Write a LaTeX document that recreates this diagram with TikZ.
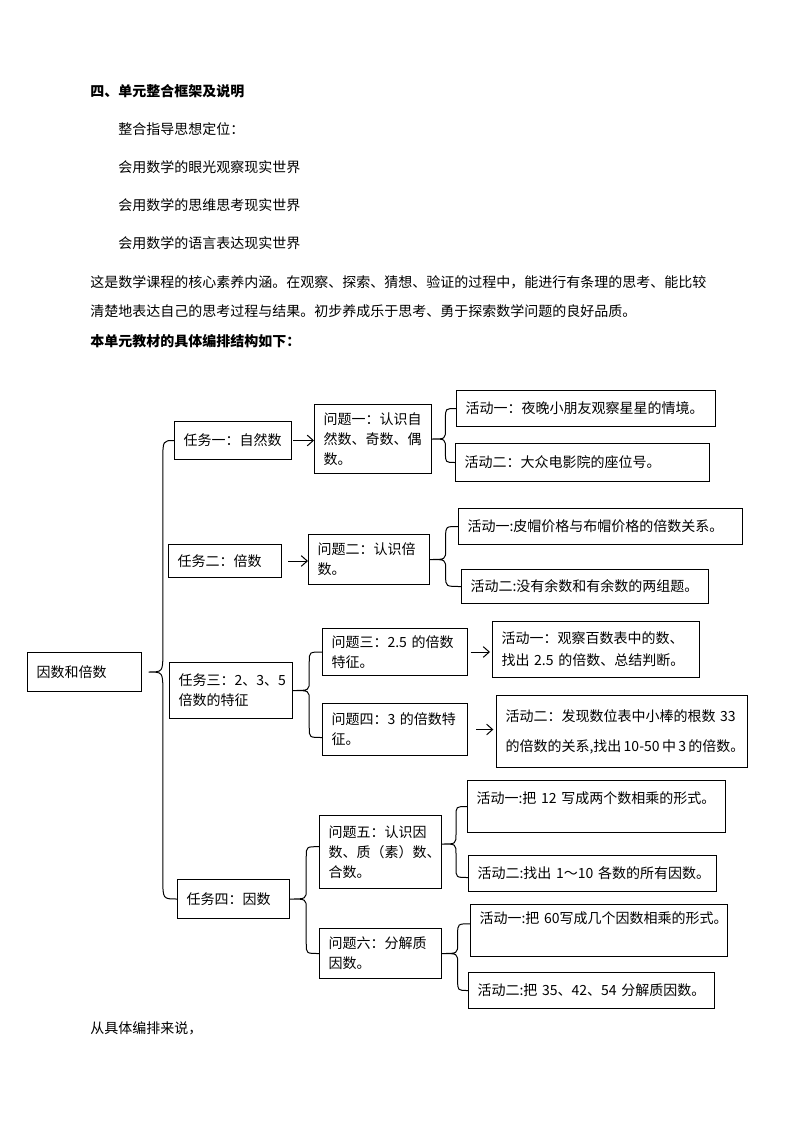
\documentclass[tikz,border=0pt]{standalone}
\usepackage{fontspec}
\setmainfont{Noto Sans CJK SC}
\usetikzlibrary{calc,arrows.meta}

\tikzset{
	box/.code 2 args={%
		\pgfmathsetmacro\bw{#1*0.75}\pgfmathsetmacro\bh{#2*0.75}\pgfmathsetmacro\tw{#1*0.75-13.5}%
		\tikzset{draw, line width=0.75pt, anchor=north west, align=left,
			minimum width=\bw pt, minimum height=\bh pt, text width=\tw pt,
			inner xsep=6.75pt, inner ysep=1pt}},
	link/.style={line width=0.75pt},
	arr/.style={line width=0.75pt, -{Straight Barb[length=4.5pt,width=8pt]}},
	textline/.style={anchor=base west, inner sep=0pt},
}

% brace from a parent point to a top and a bottom child
\newcommand\bracelink[4]{%
	\draw[link] let \p1=(#1), \p2=(#2), \p3=(#3),
			\n1={\x1+0.56*(\x2-\x1)}, \n2={#4*0.75pt} in
		(\p2) .. controls (\n1,\y2) .. (\n1,\y2-\n2) -- (\n1,\y1+\n2)
		.. controls (\n1,\y1) .. (\p1) .. controls (\n1,\y1) .. (\n1,\y1-\n2)
		-- (\n1,\y3+\n2) .. controls (\n1,\y3) .. (\p3);}

\begin{document}
\begin{tikzpicture}[x=0.75pt, y=-0.75pt, font=\fontsize{10.5pt}{15pt}\selectfont]
	\useasboundingbox (0,0) rectangle (794,1123);

	% text of the page
	\node[textline, font=\fontsize{10.5pt}{15pt}\selectfont\bfseries] (head) at (90,97) {四、单元整合框架及说明};
	\node[textline] (guide) at (118,135) {整合指导思想定位：};
	\node[textline] (view1) at (118,173) {会用数学的眼光观察现实世界};
	\node[textline] (view2) at (118,210) {会用数学的思维思考现实世界};
	\node[textline] (view3) at (118,248) {会用数学的语言表达现实世界};
	\node[textline] (para1) at (90,287) {这是数学课程的核心素养内涵。在观察、探索、猜想、验证的过程中，能进行有条理的思考、能比较};
	\node[textline] (para2) at (90,316) {清楚地表达自己的思考过程与结果。初步养成乐于思考、勇于探索数学问题的良好品质。};
	\node[textline, font=\fontsize{10.5pt}{15pt}\selectfont\bfseries] (plan) at (90,346) {本单元教材的具体编排结构如下：};
	\node[textline] (tail) at (90,1033) {从具体编排来说，};

	% the unit
	\node[box={114}{39}] (root) at (27,652) {因数和倍数};

	% task one
	\node[box={117}{38}] (t1) at (174,421) {任务一：自然数};
	\node[box={117}{69}] (q1) at (314,404) {问题一：认识自\\然数、奇数、偶\\数。};
	\node[box={259}{36}] (a11) at (456,390) {活动一：夜晚小朋友观察星星的情境。};
	\node[box={254}{38}] (a12) at (455,443) {活动二：大众电影院的座位号。};

	% task two
	\node[box={113}{33}] (t2) at (168,544) {任务二：倍数};
	\node[box={121}{50}] (q2) at (308,534) {问题二：认识倍\\数。};
	\node[box={284}{36}] (a21) at (458,508) {活动一:皮帽价格与布帽价格的倍数关系。};
	\node[box={247}{34}] (a22) at (461,569) {活动二:没有余数和有余数的两组题。};

	% task three
	\node[box={123}{56}] (t3) at (169,662) {任务三：2、3、5\\倍数的特征};
	\node[box={145}{47}] (q3) at (322,628) {问题三：2.5~的倍数\\特征。};
	\node[box={207}{56}, font=\fontsize{10.5pt}{16.5pt}\selectfont] (a31) at (492,621) {活动一：观察百数表中的数、\\找出~2.5~的倍数、总结判断。};
	\node[box={145}{52}] (q4) at (322,703) {问题四：3~的倍数特\\征。};
	\node[box={251}{72}, inner xsep=5.5pt, font=\fontsize{10.5pt}{22.5pt}\selectfont] (a32) at (496,695) {活动二：发现数位表中小棒的根数~33\\的倍数的关系,找出\,\mbox{10-50}\,中\,3\,的倍数。};

	% task four
	\node[box={112}{39}] (t4) at (177,879) {任务四：因数};
	\node[box={122}{73}] (q5) at (319,815) {问题五：认识因\\数、质（素）数、\\合数。};
	\node[box={122}{50}] (q6) at (319,928) {问题六：分解质\\因数。};
	\node[box={258}{52}, inner ysep=0pt, text height=17.25pt, text depth=21.75pt] (a51) at (467,780) {活动一:把~12~写成两个数相乘的形式。};
	\node[box={248}{36}] (a52) at (468,855) {活动二:找出~1～10~各数的所有因数。};
	\node[box={257}{52}, inner ysep=0pt, text height=14.25pt, text depth=24.75pt] (a61) at (470,904) {活动一:把~60写成几个因数相乘的形式。};
	\node[box={246}{36}] (a62) at (468,972) {活动二:把~35、42、54~分解质因数。};

	% braces
	\bracelink{[xshift=5pt]root.east}{t1.west}{t4.west}{20}
	\bracelink{q1.east}{a11.west}{a12.west}{10}
	\bracelink{q2.east}{a21.west}{a22.west}{10}
	\bracelink{t3.east}{q3.west}{[yshift=-6pt]q4.west}{10}
	\bracelink{t4.east}{[yshift=4pt]q5.west}{q6.west}{10}
	\bracelink{[yshift=6pt]q5.east}{a51.west}{[yshift=-3pt]a52.west}{10}
	\bracelink{q6.east}{[yshift=5pt]a61.west}{a62.west}{10}

	% arrows
	\draw[arr, shorten <=1pt] (t1.east) -- (t1.east -| q1.west);
	\draw[arr, shorten <=4.5pt] (t2.east) -- (t2.east -| q2.west);
	\draw[arr, shorten <=2pt, shorten >=1.5pt] (q3.east) -- (q3.east -| a31.west);
	\draw[arr, shorten <=6pt, shorten >=2pt] (q4.east) -- (q4.east -| a32.west);
\end{tikzpicture}
\end{document}
